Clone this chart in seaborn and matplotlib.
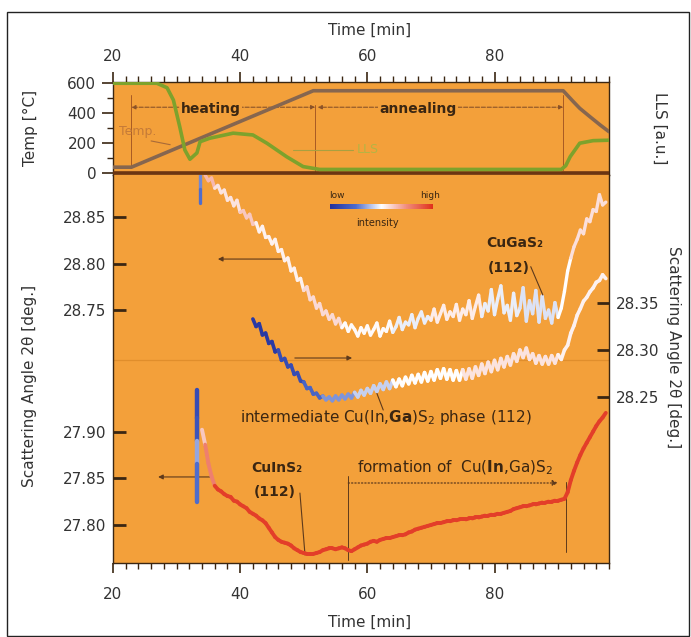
import numpy as np
import matplotlib
matplotlib.use("Agg")
import matplotlib.pyplot as plt
import seaborn as sns
from matplotlib.collections import LineCollection
from matplotlib.colors import LinearSegmentedColormap, Normalize
from matplotlib.ticker import MultipleLocator, FixedLocator
from matplotlib.patches import Rectangle
import matplotlib.cm as cm

sns.set_style("white")
plt.rcParams['font.family'] = ['DejaVu Sans']
plt.rcParams['mathtext.fontset'] = 'dejavusans'

# ---------------- data ----------------
# top panel: furnace temperature and laser light scattering
temp_time = [20, 22.9, 51.5, 90.8, 92.4, 93.4, 95.0, 96.6, 98.0]
temp_vals = [40, 40, 550, 550, 477, 433, 377, 322, 277]

lls_time = [20, 26.9, 28.5, 29.5, 30.5, 31.3, 32.1, 33.2, 33.7, 35.2, 38.9, 42.0,
            44.2, 47.3, 49.9, 52.5, 90.5, 91.2, 91.9, 93.4, 95.5, 98.0]
lls_vals = [600, 600, 570, 488, 310, 155, 93, 135, 210, 233, 267, 255,
            200, 110, 44, 25, 25, 50, 110, 200, 217, 220]

# CuGaS2 (112) peak position, left (upper) scale, sampled every 0.5 min from 34.5 min
cugas_t0, cugas_dt = 34.5, 0.5
cugas_vals = [
    28.895, 28.889, 28.892, 28.881, 28.884, 28.876, 28.879, 28.868, 28.871, 28.862,
    28.868, 28.855, 28.857, 28.849, 28.853, 28.842, 28.844, 28.834, 28.840, 28.828,
    28.829, 28.821, 28.826, 28.813, 28.815, 28.803, 28.806, 28.792, 28.795, 28.782,
    28.784, 28.771, 28.775, 28.761, 28.764, 28.752, 28.757, 28.745, 28.749, 28.740,
    28.745, 28.735, 28.741, 28.731, 28.736, 28.727, 28.734, 28.729, 28.722, 28.731,
    28.725, 28.733, 28.723, 28.729, 28.736, 28.722, 28.730, 28.727, 28.738, 28.726,
    28.732, 28.742, 28.729, 28.737, 28.734, 28.745, 28.731, 28.741, 28.748, 28.736,
    28.743, 28.739, 28.751, 28.737, 28.746, 28.755, 28.740, 28.748, 28.743, 28.756,
    28.739, 28.751, 28.745, 28.760, 28.741, 28.754, 28.766, 28.743, 28.757, 28.749,
    28.772, 28.745, 28.762, 28.776, 28.747, 28.755, 28.739, 28.768, 28.744, 28.752,
    28.774, 28.738, 28.760, 28.746, 28.771, 28.737, 28.765, 28.741, 28.750, 28.736,
    28.758, 28.742, 28.752, 28.770, 28.792, 28.806, 28.818, 28.826, 28.836, 28.832,
    28.848, 28.845, 28.858, 28.856, 28.874, 28.863, 28.866]
cugas_int_levels = [0.65, 0.56, 0.62, 0.53, 0.58, 0.51, 0.47, 0.54, 0.47, 0.45, 0.50, 0.57]
cugas_int_counts = [3, 8, 5, 15, 12, 16, 12, 16, 12, 12, 4, 12]

# intermediate Cu(In,Ga)S2 (112), right scale, every 0.5 min from 42 min
inter_t0, inter_dt = 42.0, 0.5
inter_vals = [
    28.333, 28.325, 28.328, 28.316, 28.318, 28.307, 28.309, 28.298, 28.300, 28.289,
    28.291, 28.282, 28.284, 28.274, 28.276, 28.267, 28.266, 28.259, 28.260, 28.253,
    28.254, 28.249, 28.251, 28.247, 28.250, 28.246, 28.251, 28.247, 28.252, 28.248,
    28.253, 28.249, 28.255, 28.250, 28.257, 28.252, 28.259, 28.254, 28.262, 28.256,
    28.264, 28.258, 28.266, 28.259, 28.268, 28.261, 28.269, 28.262, 28.271, 28.264,
    28.273, 28.265, 28.274, 28.266, 28.276, 28.267, 28.277, 28.268, 28.279, 28.270,
    28.280, 28.269, 28.279, 28.268, 28.278, 28.268, 28.279, 28.269, 28.280, 28.270,
    28.282, 28.273, 28.285, 28.275, 28.287, 28.277, 28.289, 28.279, 28.291, 28.282,
    28.293, 28.284, 28.296, 28.288, 28.300, 28.292, 28.302, 28.290, 28.296, 28.286,
    28.294, 28.285, 28.293, 28.285, 28.294, 28.286, 28.295, 28.290, 28.300, 28.305,
    28.318, 28.326, 28.337, 28.344, 28.352, 28.356, 28.362, 28.366, 28.372, 28.374,
    28.380, 28.376]
inter_int_levels = [0.04, 0.12, 0.22, 0.32, 0.42, 0.50, 0.56, 0.53]
inter_int_counts = [8, 8, 6, 10, 12, 22, 30, 16]

# CuInS2 (112), left (lower) scale, every 0.5 min from 34 min
cuins_t0, cuins_dt = 34.0, 0.5
cuins_vals = [
    27.902, 27.886, 27.866, 27.852, 27.842, 27.838, 27.836, 27.833, 27.831, 27.830,
    27.826, 27.825, 27.822, 27.820, 27.818, 27.814, 27.812, 27.810, 27.807, 27.805,
    27.802, 27.797, 27.792, 27.787, 27.784, 27.782, 27.781, 27.780, 27.778, 27.775,
    27.773, 27.771, 27.770, 27.769, 27.769, 27.769, 27.770, 27.771, 27.773, 27.774,
    27.775, 27.775, 27.774, 27.775, 27.776, 27.775, 27.773, 27.772, 27.774, 27.776,
    27.778, 27.779, 27.780, 27.782, 27.783, 27.782, 27.784, 27.785, 27.786, 27.786,
    27.787, 27.788, 27.789, 27.789, 27.790, 27.792, 27.793, 27.795, 27.796, 27.797,
    27.798, 27.799, 27.800, 27.801, 27.802, 27.802, 27.803, 27.804, 27.804, 27.805,
    27.805, 27.806, 27.806, 27.806, 27.807, 27.807, 27.808, 27.808, 27.809, 27.810,
    27.810, 27.811, 27.811, 27.812, 27.812, 27.813, 27.814, 27.815, 27.817, 27.818,
    27.819, 27.820, 27.820, 27.821, 27.822, 27.822, 27.823, 27.824, 27.824, 27.825,
    27.825, 27.826, 27.826, 27.827, 27.828, 27.835, 27.848, 27.858, 27.867, 27.875,
    27.882, 27.888, 27.894, 27.900, 27.906, 27.911, 27.915, 27.920]
cuins_int_levels = [0.62, 0.78, 0.96]
cuins_int_counts = [1, 3, 124]

# short vertical transients at ~33 min
burst_lo_time = [33.15, 33.15, 33.15, 33.15, 33.15]
burst_lo_vals = [27.945, 27.915, 27.890, 27.865, 27.825]
burst_lo_int = [0.12, 0.15, 0.35, 0.25, 0.20]
burst_hi_time = [33.7, 33.7, 33.7]
burst_hi_vals = [28.897, 28.880, 28.865]
burst_hi_int = [0.30, 0.25, 0.30]

# ---------------- styling ----------------
ORANGE = '#F3A03A'
TEMP_C = '#86664F'
LLS_C = '#7DA22C'
DARK = '#3A2612'
LINE_C = '#5E3A1C'
cmap = LinearSegmentedColormap.from_list(
    'lowhigh', [(0, '#22309C'), (0.25, '#4E6CCC'), (0.5, '#FFFFFF'),
                (0.75, '#F08A7A'), (1.0, '#E0301A')])
norm = Normalize(0, 1)

fig = plt.figure(figsize=(6.91, 6.37), dpi=100)
fig.patch.set_facecolor('white')
ax_top = fig.add_axes([0.1635, 0.7253, 0.7178, 0.1452])
ax_bot = fig.add_axes([0.1635, 0.1162, 0.7178, 0.6091])

XMIN, XMAX = 20, 98

# ---------- top panel ----------
ax_top.set_facecolor(ORANGE)
ax_lls = ax_top.twinx()
sns.lineplot(x=temp_time, y=temp_vals, ax=ax_top, color=TEMP_C, lw=2.6,
             sort=False, estimator=None, zorder=5)
sns.lineplot(x=lls_time, y=lls_vals, ax=ax_lls, color=LLS_C, lw=2.6,
             sort=False, estimator=None, zorder=5)
for a in (ax_top, ax_lls):
    a.set_xlim(XMIN, XMAX)
    a.set_ylim(-12, 605)
    a.set_xlabel('')
    a.set_ylabel('')
ax_lls.set_yticks([])
ax_lls.tick_params(left=False, right=False, top=False, bottom=False,
                   labelbottom=False, labeltop=False)
ax_top.axhline(0, color='#6B3512', lw=2.6, zorder=6)

ax_top.xaxis.tick_top()
ax_top.xaxis.set_major_locator(FixedLocator([20, 40, 60, 80]))
ax_top.xaxis.set_minor_locator(MultipleLocator(2))
ax_top.tick_params(axis='x', which='both', top=True, bottom=False,
                   labeltop=True, labelbottom=False)
ax_top.tick_params(axis='x', which='major', direction='out', length=7, width=1.2,
                   color=DARK, labelsize=11, labelcolor='#333333', pad=6)
ax_top.tick_params(axis='x', which='minor', direction='out', length=4, width=1.0, color=DARK)
ax_top.yaxis.set_major_locator(FixedLocator([0, 200, 400, 600]))
ax_top.yaxis.set_minor_locator(FixedLocator([100, 300, 500]))
ax_top.tick_params(axis='y', which='both', left=True, right=False)
ax_top.tick_params(axis='y', which='major', direction='out', length=8, width=1.2,
                   color=DARK, labelsize=11, labelcolor='#333333', pad=4)
ax_top.tick_params(axis='y', which='minor', direction='out', length=4, width=1.0, color=DARK)
for s in ax_top.spines.values():
    s.set_color(DARK)
    s.set_linewidth(1.0)
for s in ax_lls.spines.values():
    s.set_visible(False)

# phase markers in the top panel
for xv, y0, y1 in [(22.9, 35, 522), (51.8, 10, 455), (90.8, 20, 522)]:
    ax_top.plot([xv, xv], [y0, y1], color='#A85A24', lw=0.7, zorder=3)
ax_top.annotate('', xy=(22.9, 440), xytext=(51.8, 440),
                arrowprops=dict(arrowstyle='<|-|>', color='#8A5228', lw=0.8, ls='--',
                                mutation_scale=6, shrinkA=0, shrinkB=0), zorder=4)
ax_top.annotate('', xy=(52.2, 440), xytext=(90.8, 440),
                arrowprops=dict(arrowstyle='<|-|>', color='#8A5228', lw=0.8, ls='--',
                                mutation_scale=6, shrinkA=0, shrinkB=0), zorder=4)
ax_top.text(35.4, 430, 'heating', ha='center', va='center', fontsize=10,
            fontweight='bold', color=DARK, zorder=7,
            bbox=dict(facecolor=ORANGE, edgecolor='none', pad=1.0))
ax_top.text(68.0, 430, 'annealing', ha='center', va='center', fontsize=10,
            fontweight='bold', color=DARK, zorder=7,
            bbox=dict(facecolor=ORANGE, edgecolor='none', pad=1.0))
ax_top.text(21.0, 275, 'Temp.', ha='left', va='center', fontsize=9, color='#C47A38', zorder=7)
ax_top.plot([26.0, 29.0], [215, 190], color='#A86A38', lw=0.8, zorder=7)
ax_top.plot([48.3, 57.8], [155, 155], color='#A8A040', lw=0.8, zorder=7)
ax_top.text(58.3, 155, 'LLS', ha='left', va='center', fontsize=9, color='#B4B444', zorder=7)

# ---------- bottom panel ----------
ax_bot.set_facecolor(ORANGE)
ax_r = ax_bot.twinx()
ax_l2 = ax_bot.twinx()
ax_l2.yaxis.tick_left()

ax_bot.set_xlim(XMIN, XMAX)
ax_bot.set_ylim(28.478, 28.8952)
ax_r.set_ylim(28.0734, 28.4862)
ax_l2.set_ylim(27.7593, 28.1747)
for a in (ax_r, ax_l2):
    a.set_xlim(XMIN, XMAX)

ax_bot.set_yticks([28.75, 28.80, 28.85])
ax_bot.set_yticklabels(['28.75', '28.80', '28.85'])
ax_l2.set_yticks([27.80, 27.85, 27.90])
ax_l2.set_yticklabels(['27.80', '27.85', '27.90'])
ax_r.set_yticks([28.25, 28.30, 28.35])
ax_r.set_yticklabels(['28.25', '28.30', '28.35'])
for a in (ax_bot, ax_l2, ax_r):
    a.tick_params(axis='y', which='major', direction='in', length=9, width=2.0, color=DARK,
                  labelsize=11, labelcolor='#333333', pad=5)
ax_bot.tick_params(axis='y', which='major', left=True, right=False,
                   labelleft=True, labelright=False)
ax_l2.tick_params(axis='y', which='major', left=True, right=False,
                  labelleft=True, labelright=False)
ax_r.tick_params(axis='y', which='major', left=False, right=True,
                 labelleft=False, labelright=True)

ax_bot.xaxis.set_major_locator(FixedLocator([20, 40, 60, 80]))
ax_bot.xaxis.set_minor_locator(MultipleLocator(2))
ax_bot.tick_params(axis='x', which='both', bottom=True, top=False,
                   labelbottom=True, labeltop=False)
ax_bot.tick_params(axis='x', which='major', direction='out', length=7, width=1.2,
                   color=DARK, labelsize=11, labelcolor='#333333', pad=10)
ax_bot.tick_params(axis='x', which='minor', direction='out', length=4, width=1.0, color=DARK)
for a in (ax_r, ax_l2):
    a.tick_params(axis='x', which='both', bottom=False, top=False,
                  labelbottom=False, labeltop=False)
for s in ax_bot.spines.values():
    s.set_color(DARK)
    s.set_linewidth(1.0)
ax_bot.spines['top'].set_visible(False)
for a in (ax_r, ax_l2):
    for s in a.spines.values():
        s.set_visible(False)


def colored_line(ax, t, y, inten, lw):
    pts = np.column_stack([t, y])
    segs = np.stack([pts[:-1], pts[1:]], axis=1)
    lc = LineCollection(segs, cmap=cmap, norm=norm, linewidths=lw,
                        capstyle='round', joinstyle='round', zorder=5)
    lc.set_array(np.asarray(inten, dtype=float)[:len(segs)])
    ax.add_collection(lc)


cugas_t = cugas_t0 + cugas_dt * np.arange(len(cugas_vals))
inter_t = inter_t0 + inter_dt * np.arange(len(inter_vals))
cuins_t = cuins_t0 + cuins_dt * np.arange(len(cuins_vals))
colored_line(ax_bot, cugas_t, cugas_vals, np.repeat(cugas_int_levels, cugas_int_counts), 2.4)
colored_line(ax_bot, burst_hi_time, burst_hi_vals, burst_hi_int, 2.4)
colored_line(ax_r, inter_t, inter_vals, np.repeat(inter_int_levels, inter_int_counts), 2.6)
colored_line(ax_l2, cuins_t, cuins_vals, np.repeat(cuins_int_levels, cuins_int_counts), 2.8)
colored_line(ax_l2, burst_lo_time, burst_lo_vals, burst_lo_int, 3.2)

# faint guide line
ax_bot.axhline(28.696, color='#E08E2C', lw=0.9, zorder=1)

# axis assignment arrows
arrow_kw = dict(arrowstyle='-|>', color=LINE_C, lw=0.8, mutation_scale=7,
                shrinkA=0, shrinkB=0)
ax_bot.annotate('', xy=(36.5, 28.8048), xytext=(46.5, 28.8048), arrowprops=arrow_kw)
ax_bot.annotate('', xy=(57.6, 28.6984), xytext=(48.6, 28.6984), arrowprops=arrow_kw)
ax_bot.annotate('', xy=(27.1, 28.5705), xytext=(35.3, 28.5705), arrowprops=arrow_kw)

# labels for the peaks
ax_bot.text(83.2, 28.822, 'CuGaS₂', ha='center', va='center', fontsize=10,
            fontweight='bold', color=DARK)
ax_bot.text(82.2, 28.795, '(112)', ha='center', va='center', fontsize=10,
            fontweight='bold', color=DARK)
ax_bot.plot([85.7, 87.6], [28.7966, 28.7661], color=LINE_C, lw=0.8, zorder=6)

ax_bot.text(40.0, 28.6339, r'intermediate Cu(In,$\mathbf{Ga}$)S$_2$ phase (112)',
            ha='left', va='center', fontsize=11, color=DARK)
ax_bot.plot([61.5, 62.5], [28.6604, 28.6425], color=LINE_C, lw=0.8, zorder=6)

ax_bot.text(45.8, 28.5801, 'CuInS₂', ha='center', va='center', fontsize=10,
            fontweight='bold', color=DARK)
ax_bot.text(45.5, 28.5546, '(112)', ha='center', va='center', fontsize=10,
            fontweight='bold', color=DARK)
ax_bot.plot([49.4, 50.2], [28.5532, 28.4866], color=LINE_C, lw=0.8, zorder=6)

ax_bot.text(58.4, 28.5801, r'formation of  Cu($\mathbf{In}$,Ga)S$_2$',
            ha='left', va='center', fontsize=11, color=DARK)
ax_bot.annotate('', xy=(90.0, 28.5640), xytext=(57.0, 28.5640),
                arrowprops=dict(arrowstyle='-|>', color=LINE_C, lw=0.9, ls=':',
                                mutation_scale=8, shrinkA=0, shrinkB=0))
ax_bot.plot([57.0, 57.0], [28.5720, 28.4812], color=LINE_C, lw=0.7, zorder=6)
ax_bot.plot([91.2, 91.2], [28.5650, 28.4900], color=LINE_C, lw=0.7, zorder=6)

# intensity colour key
cax = fig.add_axes([330 / 691, 1 - 209 / 637, 103 / 691, 5 / 637])
cb = fig.colorbar(cm.ScalarMappable(norm=norm, cmap=cmap), cax=cax, orientation='horizontal')
cb.outline.set_visible(False)
cb.set_ticks([])
fig.text(337 / 691, 1 - 195 / 637, 'low', ha='center', va='center', fontsize=6.5, color=DARK)
fig.text(430 / 691, 1 - 195 / 637, 'high', ha='center', va='center', fontsize=6.5, color=DARK)
fig.text(377 / 691, 1 - 223 / 637, 'intensity', ha='center', va='center', fontsize=7, color=DARK)

# axis titles
fig.text(30 / 691, 1 - 128 / 637, 'Temp [°C]', rotation=90, ha='center', va='center',
         fontsize=11, color='#333333')
fig.text(30 / 691, 1 - 386 / 637, 'Scattering Angle 2θ [deg.]', rotation=90, ha='center',
         va='center', fontsize=11, color='#333333')
fig.text(673 / 691, 1 - 347 / 637, 'Scattering Angle 2θ [deg.]', rotation=270, ha='center',
         va='center', fontsize=11, color='#333333')
fig.text(660 / 691, 1 - 128 / 637, 'LLS [a.u.]', rotation=270, ha='center', va='center',
         fontsize=11, color='#333333')
fig.text(370 / 691, 1 - 30 / 637, 'Time [min]', ha='center', va='center', fontsize=11,
         color='#333333')
fig.text(370 / 691, 1 - 622 / 637, 'Time [min]', ha='center', va='center', fontsize=11,
         color='#333333')

# outer frame
fig.add_artist(Rectangle((7 / 691, 1 / 637), 682 / 691, 624 / 637, transform=fig.transFigure,
                         fill=False, edgecolor='#222222', lw=1.0))

fig.savefig('out.png', dpi=100)
